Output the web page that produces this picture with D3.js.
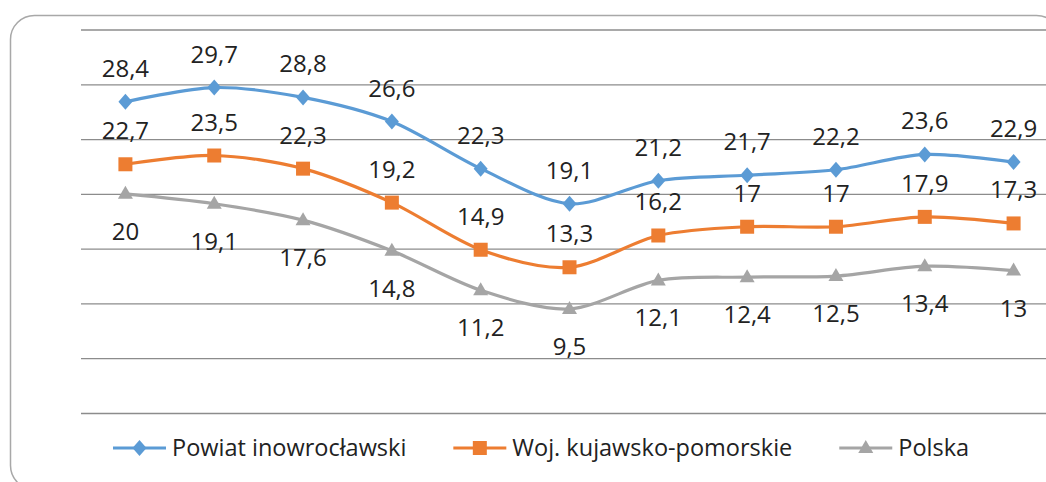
<!DOCTYPE html>
<html>
<head>
<meta charset="utf-8">
<script src="https://cdn.jsdelivr.net/npm/d3@7"></script>
<style>
  html, body { margin: 0; padding: 0; background: #fff; }
  text { font-family: "Open Sans", sans-serif; fill: #222; }
</style>
</head>
<body>
<div id="chart"></div>
<script>
var width = 1046;
var height = 482;

// data (years are not shown on the original chart)
var categories = ["2004", "2005", "2006", "2007", "2008", "2009", "2010", "2011", "2012", "2013", "2014"];
var seriesNames = ["Powiat inowrocławski", "Woj. kujawsko-pomorskie", "Polska"];
var powiat = [28.4, 29.7, 28.8, 26.6, 22.3, 19.1, 21.2, 21.7, 22.2, 23.6, 22.9];
var wojewodztwo = [22.7, 23.5, 22.3, 19.2, 14.9, 13.3, 16.2, 17, 17, 17.9, 17.3];
var polska = [20, 19.1, 17.6, 14.8, 11.2, 9.5, 12.1, 12.4, 12.5, 13.4, 13];
var yTicks = [0, 5, 10, 15, 20, 25, 30, 35];

var colours = ["#5B9BD5", "#ED7D31", "#A5A5A5"];
var series = [powiat, wojewodztwo, polska];

//SVG container
var svg = d3.select("#chart")
  .append("svg")
  .attr("width", width)
  .attr("height", height);

//Outer rounded frame (cut off on the right and bottom, as in the original)
svg.append("rect")
  .attr("x", 10.5)
  .attr("y", 15.5)
  .attr("width", 1050)
  .attr("height", 474)
  .attr("rx", 24)
  .attr("ry", 24)
  .style("fill", "none")
  .style("stroke", "#a8a8a8")
  .style("stroke-width", 1.5);

//Scales
var x = d3.scalePoint()
  .domain(categories)
  .range([81, 1058])
  .padding(0.5);

var y = d3.scaleLinear()
  .domain([0, 35])
  .range([413, 29.5]);

//Gridlines
var grid = svg.append("g")
  .attr("transform", "translate(81,0)")
  .call(d3.axisLeft(y)
    .tickValues(yTicks)
    .tickSize(-(1058 - 81))
    .tickFormat(""));
grid.select(".domain").remove();
grid.selectAll(".tick line")
  .style("stroke", "#8c8c8c")
  .style("stroke-width", 1.3);

var line = d3.line()
  .x(function(d, i) { return x(categories[i]); })
  .y(function(d) { return y(d); })
  .curve(d3.curveCardinal.tension(0.1));

var fmt = function(v) { return String(v).replace(".", ","); };

//Marker shapes
function marker(sel, k, cx, cy) {
  if (k == 0) {
    sel.append("path")
      .attr("d", "M0,-8L7,0L0,8L-7,0Z")
      .attr("transform", "translate(" + cx + "," + cy + ")")
      .style("fill", colours[k]);
  } else if (k == 1) {
    sel.append("rect")
      .attr("x", cx - 7).attr("y", cy - 7)
      .attr("width", 14).attr("height", 14)
      .style("fill", colours[k]);
  } else {
    sel.append("path")
      .attr("d", "M0,-8L7.5,5L-7.5,5Z")
      .attr("transform", "translate(" + cx + "," + cy + ")")
      .style("fill", colours[k]);
  }
}

series.forEach(function(vals, k) {
  var g = svg.append("g");
  g.append("path")
    .datum(vals)
    .attr("d", line)
    .style("fill", "none")
    .style("stroke", colours[k])
    .style("stroke-width", 3.2);

  vals.forEach(function(v, i) {
    marker(g, k, x(categories[i]), y(v));
  });

  //Data labels: above for the first two series, below for Polska
  g.selectAll(".lbl")
    .data(vals)
    .enter().append("text")
    .attr("class", "lbl")
    .attr("x", function(d, i) { return x(categories[i]); })
    .attr("y", function(d) { return k < 2 ? y(d) - 25 : y(d) + 46; })
    .attr("text-anchor", "middle")
    .style("font-size", "24px")
    .text(fmt);
});

//Legend
var legend = svg.append("g");
var lx = 113;
seriesNames.forEach(function(name, k) {
  legend.append("line")
    .attr("x1", lx).attr("x2", lx + 53)
    .attr("y1", 448).attr("y2", 448)
    .style("stroke", colours[k])
    .style("stroke-width", 3.2);
  marker(legend, k, lx + 26.5, 448);
  var t = legend.append("text")
    .attr("x", lx + 59)
    .attr("y", 456)
    .style("font-size", "23.5px")
    .text(name);
  lx = lx + 59 + t.node().getComputedTextLength() + 47;
});
</script>
</body>
</html>
